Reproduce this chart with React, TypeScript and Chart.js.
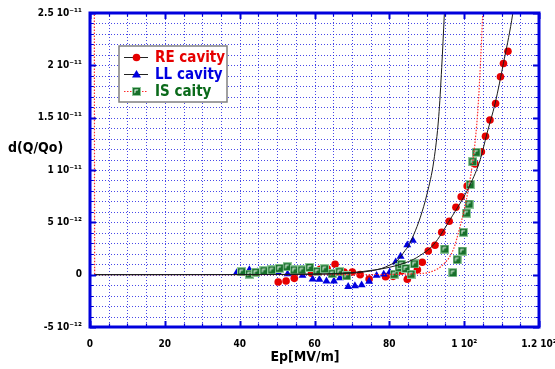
import React, { useEffect, useRef } from "react";
import { Chart, registerables } from "chart.js";
Chart.register(...registerables);

// All y values in units of 1e-12 (d(Q/Qo))
const reX = [50.3, 52.4, 54.6, 59.2, 61.5, 63.4, 65.5, 67.9, 70.1, 72.2, 74.6, 79.0, 81.0, 83.2, 84.8, 87.5, 88.8, 90.4, 92.2, 94.0, 96.0, 97.8, 99.2, 100.8, 102.9, 104.6, 105.7, 106.9, 108.4, 109.7, 110.5, 111.7];
const reY = [-0.7, -0.6, -0.35, 0.13, 0.51, 0.57, 0.99, 0.26, 0.26, 0.0, -0.41, -0.19, -0.16, 0.35, -0.44, 0.47, 1.18, 2.26, 2.81, 4.05, 5.1, 6.44, 7.45, 8.47, 10.57, 11.75, 13.23, 14.78, 16.35, 18.91, 20.17, 21.35];

const llX = [39.2, 42.6, 44.8, 50.3, 52.8, 56.8, 59.5, 61.3, 63.2, 65.2, 66.8, 69.0, 70.8, 72.6, 74.6, 76.6, 78.5, 80.1, 81.7, 83.0, 84.8, 86.3];
const llY = [0.18, 0.45, 0.26, 0.18, 0.06, -0.08, -0.44, -0.46, -0.62, -0.62, -0.32, -1.15, -1.08, -0.99, -0.65, -0.08, 0.04, 0.24, 1.21, 1.74, 2.83, 3.26];

const isX = [40.5, 42.6, 44.3, 46.5, 48.6, 50.6, 52.7, 54.6, 56.6, 58.7, 60.7, 62.7, 64.7, 66.7, 68.6, 81.3, 82.6, 83.2, 84.4, 85.8, 86.7, 94.8, 97.0, 98.1, 99.5, 99.8, 100.6, 101.3, 101.6, 102.3, 103.2];
const isY = [0.28, 0.06, 0.23, 0.37, 0.45, 0.61, 0.76, 0.45, 0.45, 0.69, 0.32, 0.56, 0.09, 0.28, -0.11, 0.04, 0.66, 0.99, 0.59, 0.04, 1.02, 2.45, 0.19, 1.43, 2.26, 4.05, 5.89, 6.75, 8.61, 10.79, 11.69];

// fit curves
const reFitX = [1.2, 40, 60, 70, 76, 80, 84, 86.4, 88.3, 91.8, 96.3, 101.6, 104.3, 106.1, 108.3, 110.5, 112.7, 113.6];
const reFitY = [0, 0.01, 0.05, 0.2, 0.45, 0.7, 1.1, 1.45, 1.85, 2.85, 5.3, 8.6, 11.0, 13.5, 16.4, 20.2, 24.3, 26.5];

const llFitX = [1.2, 40, 60, 70, 75, 78, 80, 82, 84.2, 85.2, 86.5, 88.3, 90.1, 91.9, 93.2, 94.0, 94.7, 95.2];
const llFitY = [0, 0.01, 0.05, 0.15, 0.35, 0.6, 0.9, 1.3, 2.3, 2.8, 3.8, 5.5, 7.75, 10.9, 15.1, 19.8, 24.9, 29];

const isFitX = [1.15, 1.25, 40, 80, 86.4, 90.9, 94.9, 97.1, 98.9, 100.5, 101.8, 102.9, 103.8, 104.9, 105.3];
const isFitY = [28, 0, 0, 0.02, 0.08, 0.25, 1.15, 2.4, 4.6, 7.0, 9.6, 12.6, 16.5, 24.4, 28];

const seriesNames = ["RE cavity", "LL cavity", "IS caity"];
const seriesColors = ["#e60000", "#0000e0", "#0a6a1a"];
const isFitColor = "#ff2a2a";

const xTickLabels: Record<string, string> = { "0": "0", "20": "20", "40": "40", "60": "60", "80": "80", "100": "1 10²", "120": "1.2 10²" };
const yTickLabels: Record<string, string> = { "25": "2.5 10⁻¹¹", "20": "2 10⁻¹¹", "15": "1.5 10⁻¹¹", "10": "1 10⁻¹¹", "5": "5 10⁻¹²", "0": "0", "-5": "-5 10⁻¹²" };

const xTitle = "Ep[MV/m]";
const yTitle = "d(Q/Qo)";

const FONT = '"DejaVu Sans Condensed", "DejaVu Sans", sans-serif';

// plot frame (layout, not data)
const AREA = { left: 90, right: 539, top: 13, bottom: 327 };

function pts(xs: number[], ys: number[]) {
  return xs.map((x, i) => ({ x, y: ys[i] }));
}

function makeSquare(): HTMLCanvasElement {
  const c = document.createElement("canvas");
  c.width = 9;
  c.height = 9;
  const g = c.getContext("2d")!;
  g.fillStyle = "#8fc79a";
  g.fillRect(0, 0, 9, 9);
  g.fillStyle = "#17702a";
  g.fillRect(1, 1, 7, 7);
  g.fillStyle = "#ffffff";
  g.beginPath();
  g.moveTo(2.5, 6.5);
  g.lineTo(2.5, 2.5);
  g.lineTo(6.5, 2.5);
  g.lineTo(5.5, 3.5);
  g.lineTo(3.5, 3.5);
  g.lineTo(3.5, 5.5);
  g.closePath();
  g.fill();
  return c;
}

export default function App() {
  const ref = useRef<HTMLCanvasElement>(null);
  useEffect(() => {
    if (!ref.current) return;
    const square = makeSquare();

    const frame = {
      id: "frame",
      afterLayout(chart: any) {
        const ca = chart.chartArea;
        ca.left = AREA.left;
        ca.right = AREA.right;
        ca.top = AREA.top;
        ca.bottom = AREA.bottom;
        ca.width = AREA.right - AREA.left;
        ca.height = AREA.bottom - AREA.top;
        const x = chart.scales.x;
        x.left = AREA.left;
        x.right = AREA.right;
        x.width = AREA.right - AREA.left;
        x.top = AREA.bottom;
        x.bottom = chart.height;
        x.height = chart.height - AREA.bottom;
        x.configure();
        const y = chart.scales.y;
        y.left = 0;
        y.right = AREA.left;
        y.width = AREA.left;
        y.top = AREA.top;
        y.bottom = AREA.bottom;
        y.height = AREA.bottom - AREA.top;
        y.configure();
      },
      beforeDatasetsDraw(chart: any) {
        const { ctx, chartArea, scales } = chart;
        const { left, right, top, bottom } = chartArea;
        ctx.save();
        ctx.beginPath();
        ctx.rect(left, top, right - left, bottom - top);
        ctx.clip();
        ctx.strokeStyle = "rgba(20,20,225,0.78)";
        ctx.lineWidth = 1;
        ctx.setLineDash([1, 2]);
        for (const t of scales.x.ticks) {
          const p = Math.round(scales.x.getPixelForValue(t.value)) + 0.5;
          ctx.beginPath();
          ctx.moveTo(p, top);
          ctx.lineTo(p, bottom);
          ctx.stroke();
        }
        for (const t of scales.y.ticks) {
          const p = Math.round(scales.y.getPixelForValue(t.value)) + 0.5;
          ctx.beginPath();
          ctx.moveTo(left, p);
          ctx.lineTo(right, p);
          ctx.stroke();
        }
        ctx.restore();
      },
      afterDatasetsDraw(chart: any) {
        const { ctx, chartArea, scales } = chart;
        const { left, right, top, bottom } = chartArea;
        ctx.save();
        ctx.setLineDash([]);
        ctx.strokeStyle = "#0000dd";
        for (const t of scales.x.ticks) {
          const p = Math.round(scales.x.getPixelForValue(t.value)) + 0.5;
          const major = Math.round(t.value) % 20 === 0;
          const len = major ? 6 : 3.5;
          ctx.lineWidth = major ? 2 : 1.2;
          ctx.beginPath();
          ctx.moveTo(p, bottom);
          ctx.lineTo(p, bottom - len);
          ctx.moveTo(p, top);
          ctx.lineTo(p, top + len);
          ctx.stroke();
        }
        for (const t of scales.y.ticks) {
          const p = Math.round(scales.y.getPixelForValue(t.value)) + 0.5;
          const major = Math.round(t.value) % 5 === 0;
          const len = major ? 6 : 3.5;
          ctx.lineWidth = major ? 2 : 1.2;
          ctx.beginPath();
          ctx.moveTo(left, p);
          ctx.lineTo(left + len, p);
          ctx.moveTo(right, p);
          ctx.lineTo(right - len, p);
          ctx.stroke();
        }
        ctx.lineWidth = 3;
        ctx.strokeRect(left, top, right - left, bottom - top);

        // axis titles
        ctx.fillStyle = "#000";
        ctx.font = `bold 14px ${FONT}`;
        ctx.textAlign = "left";
        ctx.textBaseline = "middle";
        ctx.fillText(yTitle, 8, 148);
        ctx.textAlign = "center";
        ctx.fillText(xTitle, 305, 357);

        // legend
        const bx = 119, by = 46, bw = 108, bh = 56;
        ctx.fillStyle = "#fff";
        ctx.fillRect(bx, by, bw, bh);
        ctx.strokeStyle = "#808080";
        ctx.lineWidth = 1.5;
        ctx.strokeRect(bx, by, bw, bh);
        const rows = [57, 74, 91];
        rows.forEach((ry, i) => {
          ctx.save();
          if (i === 2) {
            ctx.strokeStyle = isFitColor;
            ctx.setLineDash([1.5, 1.5]);
          } else {
            ctx.strokeStyle = "#222";
          }
          ctx.lineWidth = 1;
          ctx.beginPath();
          ctx.moveTo(124, ry + 0.5);
          ctx.lineTo(148, ry + 0.5);
          ctx.stroke();
          ctx.restore();
          const mx = 136.5;
          if (i === 0) {
            ctx.fillStyle = seriesColors[0];
            ctx.beginPath();
            ctx.arc(mx, ry + 0.5, 3.8, 0, Math.PI * 2);
            ctx.fill();
          } else if (i === 1) {
            ctx.fillStyle = seriesColors[1];
            ctx.beginPath();
            ctx.moveTo(mx, ry - 4);
            ctx.lineTo(mx + 4.5, ry + 3.5);
            ctx.lineTo(mx - 4.5, ry + 3.5);
            ctx.closePath();
            ctx.fill();
          } else {
            ctx.drawImage(square, Math.round(mx - 4.5), Math.round(ry - 4));
          }
          ctx.fillStyle = seriesColors[i];
          ctx.font = `bold 15px ${FONT}`;
          ctx.textAlign = "left";
          ctx.textBaseline = "middle";
          ctx.fillText(seriesNames[i], 155, ry + 1);
        });
        ctx.restore();
      },
    };

    const chart = new Chart(ref.current, {
      type: "scatter",
      data: {
        datasets: [
          {
            label: "RE fit",
            data: pts(reFitX, reFitY),
            showLine: true,
            borderColor: "#1a1a1a",
            borderWidth: 1,
            pointRadius: 0,
            cubicInterpolationMode: "monotone",
          } as any,
          {
            label: "LL fit",
            data: pts(llFitX, llFitY),
            showLine: true,
            borderColor: "#1a1a1a",
            borderWidth: 1,
            pointRadius: 0,
            cubicInterpolationMode: "monotone",
          } as any,
          {
            label: "IS fit",
            data: pts(isFitX, isFitY),
            showLine: true,
            borderColor: isFitColor,
            borderWidth: 1.2,
            borderDash: [1.5, 1.5],
            pointRadius: 0,
            cubicInterpolationMode: "monotone",
          } as any,
          {
            label: seriesNames[2],
            data: pts(isX, isY),
            pointStyle: square,
            pointRadius: 4.5,
          } as any,
          {
            label: seriesNames[1],
            data: pts(llX, llY),
            pointStyle: "triangle",
            pointRadius: 4.6,
            backgroundColor: seriesColors[1],
            borderColor: seriesColors[1],
            borderWidth: 0,
          },
          {
            label: seriesNames[0],
            data: pts(reX, reY),
            pointStyle: "circle",
            pointRadius: 3.8,
            backgroundColor: seriesColors[0],
            borderColor: seriesColors[0],
            borderWidth: 0,
          },
        ],
      },
      options: {
        responsive: false,
        animation: false,
        devicePixelRatio: 1,
        layout: { padding: { left: 0, right: 16, top: 13, bottom: 0 }, autoPadding: false } as any,
        plugins: { legend: { display: false }, tooltip: { enabled: false } },
        scales: {
          x: {
            type: "linear",
            min: 0,
            max: 120,
            grid: { display: false, drawTicks: false },
            border: { display: false },
            ticks: {
              stepSize: 5,
              autoSkip: false,
              maxRotation: 0,
              padding: 11,
              color: "#000",
              font: { family: FONT, weight: "bold", size: 10 },
              callback: (v: any) => xTickLabels[String(Math.round(Number(v)))] ?? "",
            },
            afterFit: (s: any) => {
              s.height = 42;
            },
          },
          y: {
            type: "linear",
            min: -5,
            max: 25,
            grid: { display: false, drawTicks: false },
            border: { display: false },
            ticks: {
              stepSize: 1,
              autoSkip: false,
              padding: 8,
              color: "#000",
              font: { family: FONT, weight: "bold", size: 10 },
              callback: (v: any) => yTickLabels[String(Math.round(Number(v)))] ?? "",
            },
            afterFit: (s: any) => {
              s.width = 90;
            },
          },
        },
      },
      plugins: [frame],
    });
    return () => chart.destroy();
  }, []);

  return (
    <div style={{ position: "absolute", left: 0, top: 0, width: 555, height: 369, background: "#fff" }}>
      <canvas ref={ref} width={555} height={369} style={{ display: "block" }} />
    </div>
  );
}
